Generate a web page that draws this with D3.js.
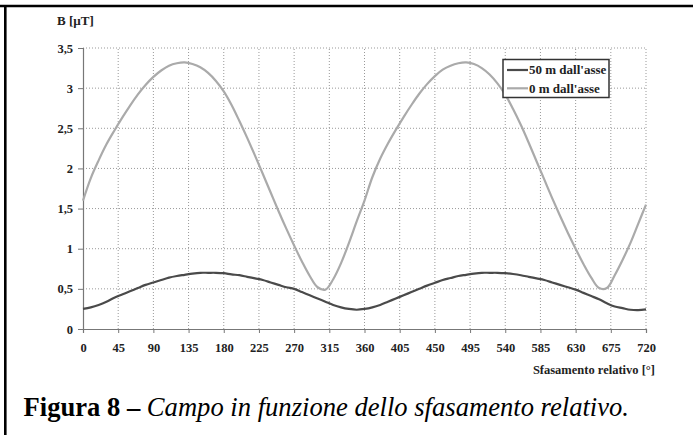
<!DOCTYPE html>
<html><head><meta charset="utf-8">
<script src="https://cdn.jsdelivr.net/npm/d3@7"></script>
<style>
html,body{margin:0;padding:0;background:#fff;}
</style></head>
<body>
<script>
// ---- data ----
const angles = d3.range(0, 721, 10);
const xTicks = [0,45,90,135,180,225,270,315,360,405,450,495,540,585,630,675,720];
const yTicks = [0,0.5,1,1.5,2,2.5,3,3.5];
const yTickLabels = ["0","0,5","1","1,5","2","2,5","3","3,5"];
const seriesNames = ["50 m dall'asse","0 m dall'asse"];
const b50 = [0.25,0.27,0.30,0.34,0.39,0.43,0.47,0.51,0.55,0.58,0.61,0.64,0.66,0.675,0.69,0.70,0.70,0.70,0.695,0.68,0.67,0.65,0.63,0.61,0.58,0.55,0.52,0.50,0.46,0.42,0.38,0.34,0.30,0.27,0.25,0.24,0.25,
  0.27,0.30,0.34,0.38,0.42,0.46,0.50,0.54,0.575,0.61,0.635,0.66,0.675,0.69,0.70,0.70,0.70,0.695,0.685,0.67,0.65,0.63,0.61,0.58,0.55,0.52,0.49,0.45,0.41,0.37,0.32,0.28,0.26,0.24,0.235,0.245];
const b0 = [1.60,1.88,2.10,2.30,2.47,2.63,2.78,2.92,3.04,3.14,3.22,3.28,3.31,3.32,3.30,3.26,3.19,3.09,2.96,2.79,2.59,2.38,2.16,1.93,1.70,1.47,1.25,1.04,0.84,0.66,0.52,0.49,0.62,0.82,1.07,1.34,1.60,
  1.89,2.12,2.31,2.48,2.64,2.79,2.93,3.05,3.15,3.23,3.28,3.31,3.32,3.30,3.25,3.17,3.06,2.92,2.74,2.54,2.32,2.09,1.86,1.63,1.41,1.20,1.00,0.81,0.64,0.51,0.51,0.67,0.86,1.07,1.31,1.55];

// ---- drawing ----
const SERIF = '"Liberation Serif","Times New Roman",Times,serif';
const W = 693, H = 435;
const svg = d3.select("body").append("svg").attr("width", W).attr("height", H).style("display","block");
const x = d3.scaleLinear().domain([0,720]).range([83,646]);
const y = d3.scaleLinear().domain([0,3.5]).range([329,48]);

// frame (top and left rule)
svg.append("line").attr("x1",0).attr("x2",W).attr("y1",6).attr("y2",6).attr("stroke","#000").attr("stroke-width",2.4);
svg.append("line").attr("x1",5.3).attr("x2",5.3).attr("y1",6).attr("y2",H).attr("stroke","#000").attr("stroke-width",2.6);

// grid
const grid = svg.append("g");
grid.selectAll("line.h").data(yTicks.filter(d=>d>0)).join("line")
  .attr("x1", x(0)).attr("x2", x(720)).attr("y1", d=>y(d)).attr("y2", d=>y(d))
  .attr("stroke","#999").attr("stroke-width",1).attr("stroke-dasharray","1,2");
grid.selectAll("line.v").data(xTicks.filter(d=>d>0)).join("line")
  .attr("x1", d=>x(d)).attr("x2", d=>x(d)).attr("y1", y(0)).attr("y2", y(3.5))
  .attr("stroke","#999").attr("stroke-width",1).attr("stroke-dasharray","1,2");

// axes
const yAxis = d3.axisLeft(y).tickValues(yTicks).tickSize(5).tickFormat((d,i)=>yTickLabels[i]).tickPadding(5);
const gy = svg.append("g").attr("transform",`translate(${x(0)},0)`).call(yAxis);
const xAxis = d3.axisBottom(x).tickValues(xTicks).tickSize(4).tickPadding(10);
const gx = svg.append("g").attr("transform",`translate(0,${y(0)})`).call(xAxis);
[gx,gy].forEach(g=>{
  g.select(".domain").attr("stroke","#777").attr("stroke-width",1.2);
  g.selectAll(".tick line").attr("stroke","#777");
  g.selectAll("text").style("font-family",SERIF).attr("font-size",12.5).attr("fill","#222").attr("font-weight","bold");
});

// lines
const line = d3.line().x((d,i)=>x(angles[i])).y(d=>y(d)).curve(d3.curveCatmullRom.alpha(0.5));
svg.append("path").datum(b0).attr("d",line).attr("fill","none").attr("stroke","#aaa").attr("stroke-width",2.2);
svg.append("path").datum(b50).attr("d",line).attr("fill","none").attr("stroke","#4a4a4a").attr("stroke-width",2.2);

// axis titles
svg.append("text").attr("x",57).attr("y",25).style("font-family",SERIF).attr("font-size",13).attr("fill","#222").attr("font-weight","bold").text("B [µT]");
svg.append("text").attr("x",655).attr("y",374).attr("text-anchor","end").style("font-family",SERIF).attr("font-size",12.5).attr("fill","#222").attr("font-weight","bold").text("Sfasamento relativo [°]");

// legend
const lg = svg.append("g");
lg.append("rect").attr("x",503).attr("y",59.5).attr("width",106).attr("height",38).attr("fill","#fff").attr("stroke","#333").attr("stroke-width",1.5);
const lcol = ["#4a4a4a","#aaa"];
seriesNames.forEach((n,i)=>{
  const yy = 70 + i*18.3;
  lg.append("line").attr("x1",507).attr("x2",528).attr("y1",yy).attr("y2",yy).attr("stroke",lcol[i]).attr("stroke-width",2.2);
  lg.append("text").attr("x",529).attr("y",yy+4.3).style("font-family",SERIF).attr("font-size",13).attr("font-weight","bold").attr("fill","#222").text(n);
});

// caption
const cap = svg.append("text").attr("x",23.5).attr("y",416).style("font-family",SERIF).attr("font-size",26.6).attr("fill","#000");
cap.append("tspan").attr("font-weight","bold").text("Figura 8 –");
cap.append("tspan").attr("font-style","italic").text(" Campo in funzione dello sfasamento relativo.");
</script>
</body></html>
